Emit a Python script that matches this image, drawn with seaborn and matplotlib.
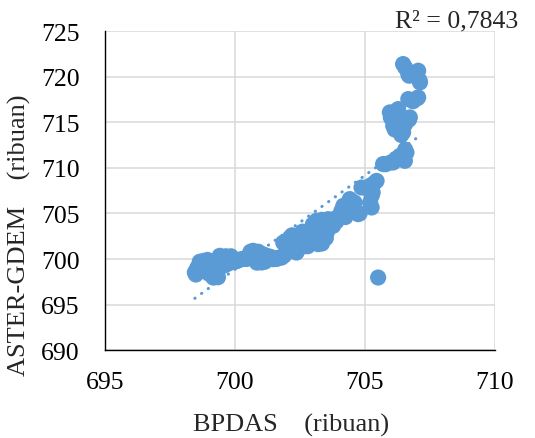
import numpy as np
import pandas as pd
import matplotlib
import matplotlib.pyplot as plt
import seaborn as sns

matplotlib.use('Agg')

# BPDAS vs ASTER-GDEM elevations (ribuan)
bpdas = [698.46, 698.60, 698.72, 698.85, 698.97, 699.05, 699.17, 699.30, 699.42, 699.55,
         699.70, 699.94, 700.20, 700.45, 700.58, 700.70, 700.83, 701.03, 701.20, 701.47,
         701.65, 701.80, 701.86, 702.00, 702.12, 702.25, 702.37, 702.50, 702.63, 702.80,
         703.01, 703.14, 703.20, 703.33, 703.45, 703.59, 703.78, 703.90, 704.04, 704.17,
         704.36, 704.42, 704.74, 704.87, 705.19, 705.26, 705.26, 705.45, 705.51, 705.70,
         706.09, 706.35, 706.54, 706.60, 705.96, 706.09, 706.28, 706.47, 706.73, 706.67,
         707.05, 706.47, 706.67, 707.05, 707.12,
         698.50, 698.60, 698.80, 698.90, 699.00, 699.10, 699.20, 699.30, 699.35, 699.50,
         699.60, 699.70, 699.80, 700.10, 700.30, 700.50, 700.60, 700.75, 700.90, 701.10,
         701.30, 701.60, 701.90, 702.00, 702.20, 702.30, 702.45, 702.55, 702.70, 702.85,
         702.95, 703.10, 703.25, 703.30, 703.40, 703.55, 703.70, 703.90, 704.10, 704.25,
         704.50, 704.60, 704.80, 705.05, 705.35, 705.30, 705.20, 705.80, 706.00, 706.20,
         706.40, 706.55, 706.00, 706.15, 706.30, 706.40, 706.55, 706.70, 706.20, 706.85,
         707.00, 706.55, 706.70, 706.95, 707.10,
         698.55, 698.65, 698.75, 698.95, 699.05, 699.15, 699.25, 699.40, 699.45, 699.65,
         699.75, 699.85, 700.00, 700.40, 700.65, 700.80, 701.00, 701.15, 701.40, 701.75,
         702.10, 702.40, 702.60, 702.90, 703.05, 703.20, 703.35,
         702.20, 702.40, 702.60, 702.80, 703.00, 703.20, 703.35, 703.50, 703.00, 702.50,
         700.70, 700.90, 701.10, 700.85]
aster = [698.53, 698.90, 699.62, 699.30, 698.90, 699.00, 697.97, 698.60, 700.35, 699.62,
         699.90, 699.98, 699.95, 700.00, 700.53, 700.40, 700.35, 699.62, 700.00, 699.98,
         700.10, 700.16, 701.80, 701.20, 702.35, 701.50, 700.71, 701.80, 702.90, 702.40,
         702.17, 704.20, 701.63, 702.90, 703.30, 704.37, 703.64, 704.10, 704.73, 705.83,
         705.10, 706.57, 704.92, 707.84, 708.02, 706.93, 705.65, 708.57, 697.97, 710.41,
         710.59, 711.32, 710.77, 711.68, 716.08, 714.61, 716.44, 713.88, 715.53, 717.54,
         717.72, 721.38, 720.28, 720.65, 719.37,
         698.30, 699.20, 699.80, 699.50, 698.40, 699.10, 698.20, 699.40, 698.00, 700.10,
         699.30, 699.80, 700.20, 699.80, 700.00, 700.20, 700.80, 700.60, 700.10, 699.80,
         700.30, 700.00, 700.40, 701.90, 701.00, 702.00, 702.60, 701.30, 702.20, 702.80,
         701.90, 703.30, 702.50, 701.90, 703.80, 703.00, 704.00, 704.50, 705.30, 704.60,
         705.60, 706.20, 705.00, 707.80, 708.30, 707.30, 706.20, 710.40, 710.60, 711.00,
         711.30, 712.00, 715.50, 714.20, 715.00, 713.60, 714.80, 715.30, 716.20, 717.30,
         717.60, 721.00, 720.10, 720.30, 719.60,
         699.00, 699.70, 698.70, 699.90, 699.60, 698.50, 699.80, 699.00, 699.90, 700.30,
         699.50, 700.30, 699.70, 700.10, 700.70, 700.10, 700.50, 699.70, 700.20, 700.20,
         701.80, 701.40, 702.40, 702.20, 701.80, 702.30, 701.70,
         702.60, 701.00, 703.00, 701.40, 703.80, 702.00, 704.30, 702.30, 702.60, 702.30,
         700.90, 700.80, 700.50, 699.60]
x_ticks = [695, 700, 705, 710]
y_ticks = [690, 695, 700, 705, 710, 715, 720, 725]
r2_label = 'R² = 0,7843'

df = pd.DataFrame({'bpdas': bpdas, 'aster': aster})

# linear trend line, like Excel's
slope, intercept = np.polyfit(df['bpdas'], df['aster'], 1)
trend = pd.DataFrame({'bpdas': [df['bpdas'].min(), df['bpdas'].max()]})
trend['aster'] = slope * trend['bpdas'] + intercept

sns.set_style('whitegrid')
plt.rcParams['font.family'] = ['Liberation Serif', 'DejaVu Serif']

blue = '#5B9BD5'
fig, ax = plt.subplots(figsize=(5.35, 4.39), dpi=100)
fig.subplots_adjust(left=0.196, right=0.925, bottom=0.2, top=0.927)

sns.scatterplot(data=df, x='bpdas', y='aster', ax=ax, color=blue, s=135,
                edgecolor='none', linewidth=0, alpha=1, zorder=3)
sns.lineplot(data=trend, x='bpdas', y='aster', ax=ax, color=blue, linewidth=2.2,
             linestyle=(0, (0.1, 2.6)), dash_capstyle='round', zorder=4)

ax.set_xlim(695, 710)
ax.set_ylim(690, 725)
ax.set_xticks(x_ticks)
ax.set_yticks(y_ticks)
ax.tick_params(axis='both', length=0, labelsize=18.5, colors='black')
ax.tick_params(axis='y', pad=18)
ax.tick_params(axis='x', pad=15)
ax.grid(color='#D9D9D9', linewidth=1.1)

for side in ['top', 'right']:
    ax.spines[side].set_visible(False)
for side in ['left', 'bottom']:
    ax.spines[side].set_color('black')
    ax.spines[side].set_linewidth(1.0)

ax.set_xlabel('BPDAS    (ribuan)', fontsize=19)
ax.set_ylabel('ASTER-GDEM    (ribuan)', fontsize=19)
ax.xaxis.set_label_coords(0.477, -0.232)
ax.yaxis.set_label_coords(-0.218, 0.364)
ax.xaxis.label.set_va('center')
ax.yaxis.label.set_va('center')

fig.text(0.968, 0.95, r2_label, ha='right', va='center', fontsize=18.5)

plt.savefig('out.png', dpi=100)
